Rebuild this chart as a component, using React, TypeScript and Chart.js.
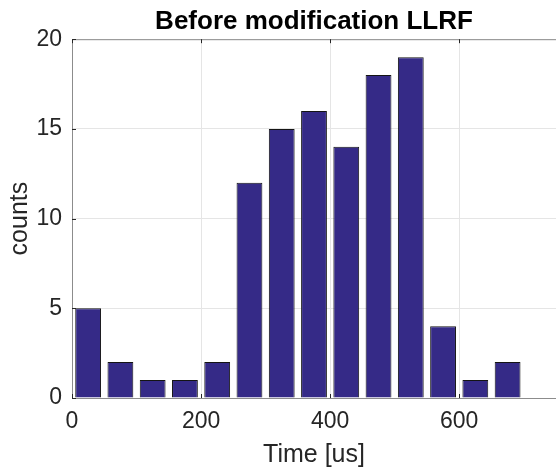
import { useEffect, useRef } from 'react';
import { Chart, registerables } from 'chart.js';

Chart.register(...registerables);

const binCenters = [25, 75, 125, 175, 225, 275, 325, 375, 425, 475, 525, 575, 625, 675];
const counts = [5, 2, 1, 1, 2, 12, 15, 16, 14, 18, 19, 4, 1, 2];
const xTicks = [0, 200, 400, 600];
const yTicks = [0, 5, 10, 15, 20];
const titleText = 'Before modification LLRF';
const xLabel = 'Time [us]';
const yLabel = 'counts';

const FONT = '"Liberation Sans", Arial, Helvetica, sans-serif';
const TEXT = '#262626';
const AXIS = '#8c8c8c';

const framePlugin = {
  id: 'frame',
  afterDatasetsDraw(chart: any) {
    const { ctx, chartArea, scales } = chart;
    const { left, right, top, bottom } = chartArea;
    ctx.save();
    ctx.strokeStyle = AXIS;
    ctx.lineWidth = 1;
    ctx.beginPath();
    ctx.moveTo(left, top + 0.5);
    ctx.lineTo(right, top + 0.5);
    ctx.moveTo(left, bottom + 0.5);
    ctx.lineTo(right, bottom + 0.5);
    ctx.moveTo(left + 0.5, top);
    ctx.lineTo(left + 0.5, bottom);
    ctx.stroke();
    ctx.strokeStyle = TEXT;
    ctx.beginPath();
    for (const t of xTicks) {
      const x = Math.round(scales.x.getPixelForValue(t)) + 0.5;
      ctx.moveTo(x, bottom);
      ctx.lineTo(x, bottom - 4);
      ctx.moveTo(x, top);
      ctx.lineTo(x, top + 4);
    }
    for (const t of yTicks) {
      const y = Math.round(scales.y.getPixelForValue(t)) + 0.5;
      ctx.moveTo(left, y);
      ctx.lineTo(left + 4, y);
    }
    ctx.stroke();
    ctx.restore();
  },
};

export default function App() {
  const ref = useRef<HTMLCanvasElement>(null);
  useEffect(() => {
    if (!ref.current) return;
    const chart = new Chart(ref.current, {
      type: 'bar',
      data: {
        datasets: [
          {
            data: binCenters.map((x, i) => ({ x, y: counts[i] })),
            backgroundColor: '#352a87',
            borderColor: '#141414',
            borderWidth: 1,
            barPercentage: 0.8,
            categoryPercentage: 1,
          },
        ],
      },
      options: {
        responsive: false,
        animation: false,
        layout: { padding: { left: 0, right: 0, top: 0, bottom: 0 } },
        plugins: {
          legend: { display: false },
          tooltip: { enabled: false },
          title: {
            display: true,
            fullSize: false,
            text: titleText,
            color: '#000',
            font: { family: FONT, size: 26, weight: 'bold' },
            padding: { top: 6, bottom: 2 },
          },
        },
        scales: {
          x: {
            type: 'linear',
            min: 0,
            max: 750,
            offset: false,
            grid: { color: '#e5e5e5', drawTicks: false, offset: false },
            border: { display: false },
            afterBuildTicks: (s: any) => {
              s.ticks = xTicks.map((v) => ({ value: v }));
            },
            afterFit: (s: any) => {
              s.height = 74;
            },
            ticks: {
              color: TEXT,
              font: { family: FONT, size: 23 },
              padding: 10,
              maxRotation: 0,
            },
            title: {
              display: true,
              text: xLabel,
              color: TEXT,
              font: { family: FONT, size: 25 },
              padding: { top: 4, bottom: 2 },
            },
          },
          y: {
            min: 0,
            max: 20,
            grid: { color: '#e5e5e5', drawTicks: false },
            border: { display: false },
            afterBuildTicks: (s: any) => {
              s.ticks = yTicks.map((v) => ({ value: v }));
            },
            afterFit: (s: any) => {
              s.width = 72;
            },
            ticks: {
              color: TEXT,
              font: { family: FONT, size: 23 },
              padding: 10,
            },
            title: {
              display: true,
              text: yLabel,
              color: TEXT,
              font: { family: FONT, size: 25 },
              padding: { top: 5, bottom: 0 },
            },
          },
        },
      },
      plugins: [framePlugin],
    } as any);
    return () => chart.destroy();
  }, []);
  return (
    <div style={{ position: 'absolute', left: 0, top: 0, width: 556, height: 472, overflow: 'hidden', background: '#fff' }}>
      <canvas ref={ref} width={556} height={472} />
    </div>
  );
}
